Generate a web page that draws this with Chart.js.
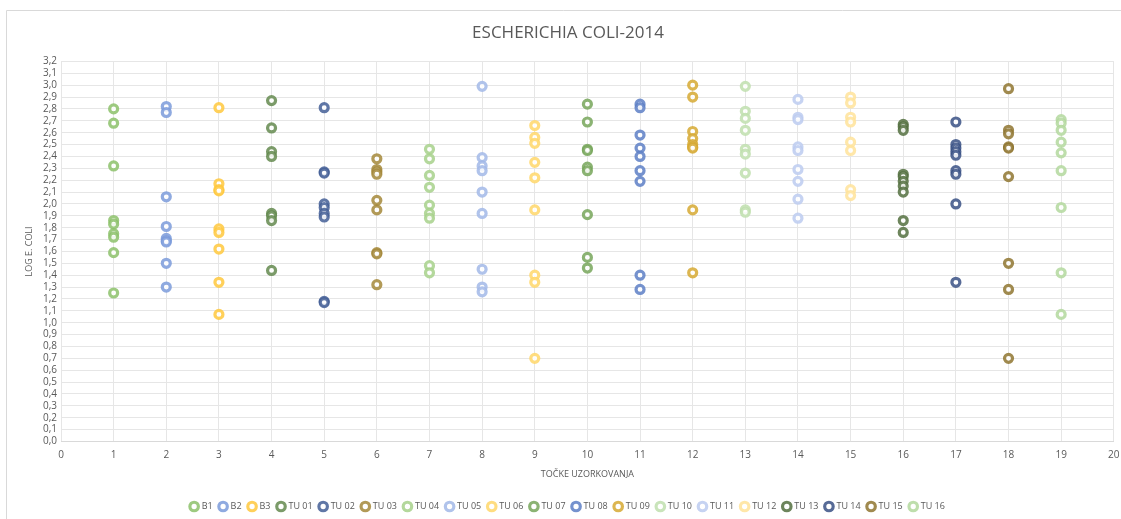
<!DOCTYPE html>
<html>
<head>
<meta charset="utf-8">
<script src="https://cdn.jsdelivr.net/npm/chart.js@4.4.1/dist/chart.umd.min.js"></script>
<style>
  html, body { margin: 0; padding: 0; background: #fff; }
  #wrap { width: 1121px; height: 519px; position: relative; }
</style>
</head>
<body>
<div id="wrap"><canvas id="scatter"></canvas></div>
<script>
// sampling points (x position) and series names
const seriesNames = ['B1','B2','B3','TU 01','TU 02','TU 03','TU 04','TU 05','TU 06','TU 07',
                     'TU 08','TU 09','TU 10','TU 11','TU 12','TU 13','TU 14','TU 15','TU 16'];

// log E. coli values read per sampling point
const B1   = [2.80, 2.68, 2.32, 1.86, 1.83, 1.75, 1.72, 1.59, 1.25];
const B2   = [2.82, 2.77, 2.06, 1.81, 1.71, 1.69, 1.68, 1.50, 1.30];
const B3   = [2.81, 2.17, 2.12, 2.11, 1.79, 1.76, 1.62, 1.34, 1.07];
const TU01 = [2.87, 2.64, 2.44, 2.40, 1.92, 1.90, 1.86, 1.44];
const TU02 = [2.81, 2.27, 2.26, 2.00, 1.97, 1.92, 1.89, 1.18, 1.17];
const TU03 = [2.38, 2.29, 2.27, 2.25, 2.03, 1.95, 1.59, 1.58, 1.32];
const TU04 = [2.46, 2.38, 2.24, 2.14, 1.99, 1.92, 1.88, 1.48, 1.42];
const TU05 = [2.99, 2.39, 2.32, 2.28, 2.10, 1.92, 1.45, 1.30, 1.26];
const TU06 = [2.66, 2.56, 2.51, 2.35, 2.22, 1.95, 1.40, 1.34, 0.70];
const TU07 = [2.84, 2.69, 2.46, 2.45, 2.31, 2.28, 1.91, 1.55, 1.46];
const TU08 = [2.84, 2.81, 2.58, 2.47, 2.40, 2.28, 2.19, 1.40, 1.28];
const TU09 = [3.00, 2.90, 2.61, 2.55, 2.50, 2.48, 2.47, 1.95, 1.42];
const TU10 = [2.99, 2.78, 2.72, 2.62, 2.46, 2.42, 2.26, 1.95, 1.93];
const TU11 = [2.88, 2.73, 2.71, 2.48, 2.45, 2.29, 2.19, 2.04, 1.88];
const TU12 = [2.90, 2.85, 2.73, 2.69, 2.52, 2.45, 2.12, 2.07];
const TU13 = [2.67, 2.65, 2.62, 2.25, 2.23, 2.19, 2.15, 2.10, 1.86, 1.76];
const TU14 = [2.69, 2.50, 2.47, 2.44, 2.41, 2.28, 2.25, 2.00, 1.34];
const TU15 = [2.97, 2.62, 2.59, 2.48, 2.47, 2.23, 1.50, 1.28, 0.70];
const TU16 = [2.71, 2.68, 2.62, 2.52, 2.43, 2.28, 1.97, 1.42, 1.07];

const seriesValues = [B1, B2, B3, TU01, TU02, TU03, TU04, TU05, TU06, TU07,
                      TU08, TU09, TU10, TU11, TU12, TU13, TU14, TU15, TU16];

const colors = [
  '#8cc16a', '#7b9bdb', '#ffc83d', '#64894f', '#445f97', '#a4883a',
  '#a7d18b', '#a2b9e8', '#ffd76a', '#77a65b', '#5d7fc6', '#d6a933',
  '#c0dfae', '#bccbf0', '#ffe39a', '#54703f', '#3a5185', '#8f7630', '#b3d89d'
];

const datasets = seriesNames.map((name, i) => ({
  label: name,
  data: seriesValues[i].map(v => ({ x: i + 1, y: v })),
  borderColor: colors[i] + 'd9',
  backgroundColor: 'rgba(255,255,255,0.85)',
  pointRadius: 4,
  pointHoverRadius: 4,
  borderWidth: 3.2
}));

const frame = {
  id: 'frame',
  beforeDraw(chart) {
    const c = chart.ctx;
    c.save();
    c.strokeStyle = '#d9d9d9';
    c.lineWidth = 1;
    c.beginPath();
    c.moveTo(6.5, 519);
    c.lineTo(6.5, 10.5);
    c.lineTo(1121, 10.5);
    c.stroke();
    c.restore();
  }
};

const ctx = document.getElementById('scatter');

const scatter = new Chart(ctx, {
  type: 'scatter',
  data: { datasets },
  plugins: [frame],
  options: {
    responsive: true,
    maintainAspectRatio: false,
    animation: false,
    layout: { padding: { left: 22, right: 7, top: 0, bottom: -2 } },
    plugins: {
      title: {
        display: true,
        text: 'ESCHERICHIA COLI-2014',
        color: '#595959',
        font: { family: 'Open Sans', size: 17, weight: 'normal' },
        padding: { top: 23, bottom: 18 }
      },
      legend: {
        position: 'bottom',
        labels: {
          usePointStyle: true,
          pointStyle: 'circle',
          boxWidth: 6,
          boxHeight: 6,
          padding: 7.5,
          color: '#595959',
          font: { family: 'Open Sans', size: 9 }
        }
      },
      tooltip: { enabled: false }
    },
    scales: {
      x: {
        min: 0,
        max: 20,
        ticks: { stepSize: 1, color: '#595959', font: { family: 'Open Sans', size: 10 }, padding: 8 },
        grid: { color: '#e6e6e6', drawTicks: false },
        border: { color: '#d9d9d9' },
        title: {
          display: true,
          text: 'TOČKE UZORKOVANJA',
          color: '#595959',
          font: { family: 'Open Sans', size: 9 },
          padding: { top: 4, bottom: 15 }
        },
        afterFit(scale) {
          scale.height = 53;
          scale.paddingLeft = 0;
          scale.paddingRight = 0;
        }
      },
      y: {
        min: 0,
        max: 3.2,
        ticks: {
          stepSize: 0.1,
          autoSkip: false,
          color: '#595959',
          font: { family: 'Open Sans', size: 10 },
          padding: 4,
          callback: v => v.toFixed(1).replace('.', ',')
        },
        grid: { color: '#e6e6e6', drawTicks: false },
        border: { display: false },
        title: {
          display: true,
          text: 'LOG E. COLI',
          color: '#595959',
          font: { family: 'Open Sans', size: 9 },
          padding: { top: 2, bottom: 2 }
        },
        afterFit(scale) { scale.width = 39; }
      }
    }
  }
});
</script>
</body>
</html>
